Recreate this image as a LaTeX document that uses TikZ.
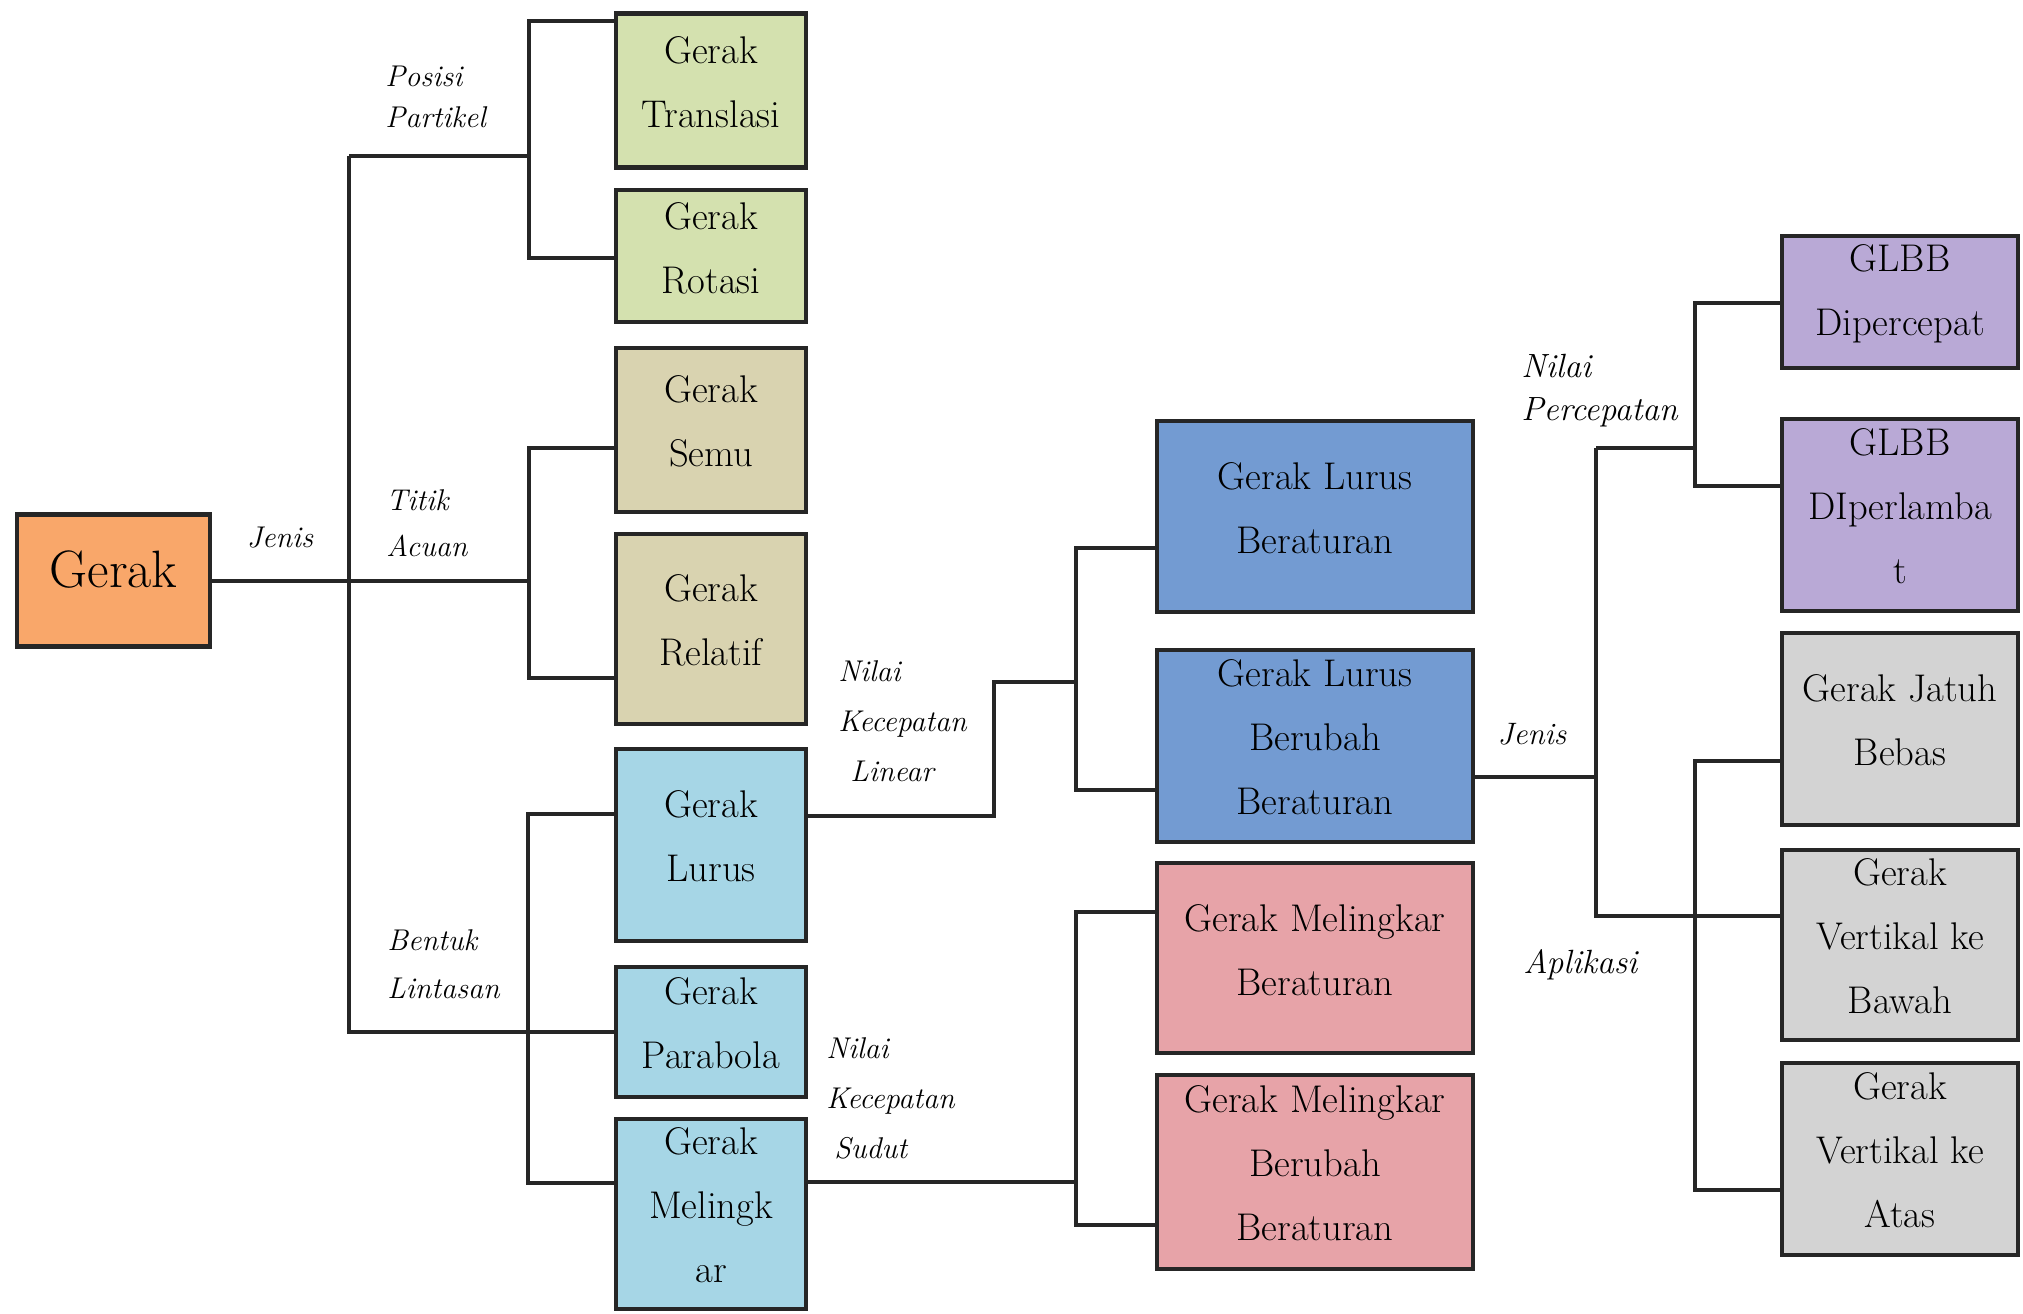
\documentclass[tikz,border=0pt]{standalone}
\usepackage{fontspec}
\definecolor{corange}{HTML}{F9A76A}
\definecolor{cgreen}{HTML}{D4E1AF}
\definecolor{ctan}{HTML}{D9D3B0}
\definecolor{clblue}{HTML}{A6D6E6}
\definecolor{cblue}{HTML}{739BD2}
\definecolor{cpink}{HTML}{E7A3A8}
\definecolor{cpurple}{HTML}{B9A9D6}
\definecolor{cgrey}{HTML}{D3D3D3}
\definecolor{cline}{HTML}{262626}
\begin{document}
\begin{tikzpicture}[x=0.5pt,y=-0.5pt,
  box/.style={draw=cline, line width=2.4pt, inner sep=0pt, minimum width=95pt},
  wbox/.style={box, minimum width=158pt},
  rbox/.style={box, minimum width=118pt},
  btxt/.style={align=center, font=\fontsize{19.3}{32}\selectfont, inner sep=0pt},
  lbl/.style={align=left, font=\fontsize{15}{23}\selectfont\itshape, inner sep=0pt, anchor=west},
  conn/.style={line width=1.7pt, draw=cline}]
\useasboundingbox (0,0) rectangle (2023,1313);
% ---------- boxes ----------
\node[box, fill=corange, minimum width=96.5pt, minimum height=66pt] (gerak) at (113.5,580.5) {};
\node[inner sep=0pt, font=\fontsize{26.3}{30}\selectfont] (gerakt) at (113.5,570) {Gerak};

\node[box, fill=cgreen, minimum height=77pt] (tr) at (711,90.5) {};
\node[btxt] (trt) at (711,82) {Gerak\\Translasi};
\node[box, fill=cgreen, minimum height=66pt] (ro) at (711,256) {};
\node[btxt] (rot) at (711,248) {Gerak\\Rotasi};
\node[box, fill=ctan, minimum height=82pt] (se) at (711,430) {};
\node[btxt] (set) at (711,421.5) {Gerak\\Semu};
\node[box, fill=ctan, minimum height=95pt] (re) at (711,629) {};
\node[btxt] (ret) at (711,620.5) {Gerak\\Relatif};
\node[box, fill=clblue, minimum height=96pt] (lu) at (711,845) {};
\node[btxt] (lut) at (711,836.5) {Gerak\\Lurus};
\node[box, fill=clblue, minimum height=65pt] (pa) at (711,1032) {};
\node[btxt] (pat) at (711,1023) {Gerak\\Parabola};
\node[box, fill=clblue, minimum height=95pt] (me) at (711,1214) {};
\node[btxt] (met) at (711,1205.5) {Gerak\\Melingk\\ar};

\node[wbox, fill=cblue, minimum height=95.5pt] (glb) at (1315,516.5) {};
\node[btxt] (glbt) at (1315,508) {Gerak Lurus\\Beraturan};
\node[wbox, fill=cblue, minimum height=96pt] (glbb) at (1315,746) {};
\node[btxt] (glbbt) at (1315,737.5) {Gerak Lurus\\Berubah\\Beraturan};
\node[wbox, fill=cpink, minimum height=95pt] (gmb) at (1315,958) {};
\node[btxt] (gmbt) at (1315,950) {Gerak Melingkar\\Beraturan};
\node[wbox, fill=cpink, minimum height=97pt] (gmbb) at (1315,1172) {};
\node[btxt] (gmbbt) at (1315,1163.5) {Gerak Melingkar\\Berubah\\Beraturan};

\node[rbox, fill=cpurple, minimum height=66pt] (gd) at (1900,302) {};
\node[btxt] (gdt) at (1900,293.5) {GLBB\\Dipercepat};
\node[rbox, fill=cpurple, minimum height=96pt] (gp) at (1900,515) {};
\node[btxt] (gpt) at (1900,506.5) {GLBB\\DIperlamba\\t};
\node[rbox, fill=cgrey, minimum height=96pt] (jb) at (1900,729) {};
\node[btxt] (jbt) at (1900,720.5) {Gerak Jatuh\\Bebas};
\node[rbox, fill=cgrey, minimum height=95pt] (vb) at (1900,945) {};
\node[btxt] (vbt) at (1900,936.5) {Gerak\\Vertikal ke\\Bawah};
\node[rbox, fill=cgrey, minimum height=96pt] (va) at (1900,1159) {};
\node[btxt] (vat) at (1900,1150.5) {Gerak\\Vertikal ke\\Atas};

% ---------- junction coordinates ----------
\coordinate (tTop) at (349,156);
\coordinate (tBot) at (349,1032);
\coordinate (pp) at (529,156);
\coordinate (ppT) at (529,21);
\coordinate (ppB) at (529,258);
\coordinate (ta) at (529,581);
\coordinate (taT) at (529,448);
\coordinate (taB) at (529,678);
\coordinate (blT) at (528,814);
\coordinate (blB) at (528,1183);
\coordinate (kl1) at (994,816);
\coordinate (kl2) at (994,682);
\coordinate (kl3) at (1076,682);
\coordinate (klT) at (1076,548);
\coordinate (klB) at (1076,790);
\coordinate (ks) at (1076,1182);
\coordinate (ksT) at (1076,912);
\coordinate (ksB) at (1076,1225);
\coordinate (jn) at (1596,777);
\coordinate (jnT) at (1596,448);
\coordinate (jnB) at (1596,916);
\coordinate (npT) at (1695,303);
\coordinate (npB) at (1695,486);
\coordinate (npM) at (1695,448);
\coordinate (apT) at (1695,761);
\coordinate (apB) at (1695,1190);

% ---------- connectors ----------
\draw[conn] (gerak.east |- ta) -- (ta);
\draw[conn] (tTop) -- (tBot) -- (tBot -| pa.west);
\draw[conn] (tTop) -- (pp);
\draw[conn] (ppT -| tr.west) -- (ppT) -- (ppB) -- (ppB -| ro.west);
\draw[conn] (taT -| se.west) -- (taT) -- (taB) -- (taB -| re.west);
\draw[conn] (blT -| lu.west) -- (blT) -- (blB) -- (blB -| me.west);
\draw[conn] (kl1 -| lu.east) -- (kl1) -- (kl2) -- (kl3);
\draw[conn] (klT -| glb.west) -- (klT) -- (klB) -- (klB -| glbb.west);
\draw[conn] (ks -| me.east) -- (ks);
\draw[conn] (ksT -| gmb.west) -- (ksT) -- (ksB) -- (ksB -| gmbb.west);
\draw[conn] (jn -| glbb.east) -- (jn);
\draw[conn] (jnT) -- (jnB) -- (jnB -| vb.west);
\draw[conn] (jnT) -- (npM);
\draw[conn] (npT -| gd.west) -- (npT) -- (npB) -- (npB -| gp.west);
\draw[conn] (apT -| jb.west) -- (apT) -- (apB) -- (apB -| va.west);

% ---------- labels ----------
\node[inner sep=0pt, font=\fontsize{15}{23}\selectfont\itshape] (l1) at (280,538) {Jenis};
\node[lbl, font=\fontsize{15}{20.5}\selectfont\itshape] (l2) at (385,96.5) {Posisi\\Partikel};
\node[lbl] (l3) at (386,523) {Titik\\Acuan};
\node[lbl, font=\fontsize{15}{24}\selectfont\itshape] (l4) at (387,964) {Bentuk\\Lintasan};
\node[lbl, font=\fontsize{15}{25}\selectfont\itshape] (l5) at (838,721) {Nilai\\Kecepatan\\\hspace*{6pt}Linear};
\node[lbl, font=\fontsize{15}{25}\selectfont\itshape] (l6) at (826,1098) {Nilai\\Kecepatan\\\hspace*{4pt}Sudut};
\node[inner sep=0pt, font=\fontsize{15.5}{23}\selectfont\itshape] (l7) at (1532,734) {Jenis};
\node[lbl, font=\fontsize{16.8}{21.5}\selectfont\itshape] (l8) at (1521,391) {Nilai\\Percepatan};
\node[inner sep=0pt, anchor=west, font=\fontsize{16.8}{23}\selectfont\itshape] (l9) at (1523,965) {Aplikasi};
\end{tikzpicture}
\end{document}
